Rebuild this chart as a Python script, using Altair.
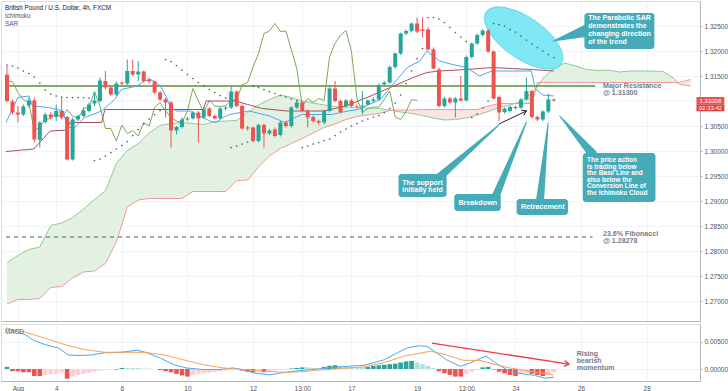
import altair as alt
import pandas as pd

# ---------------- values ----------------
opens = [1.3153,1.3099,1.3077,1.3073,1.3091,1.3101,1.3022,1.3058,1.3073,1.3068,
         1.3080,1.3068,1.2983,1.3063,1.3070,1.3080,1.3095,1.3100,1.3140,1.3127,
         1.3113,1.3137,1.3135,1.3160,1.3153,1.3159,1.3143,1.3139,1.3117,1.3103,
         1.3097,1.3041,1.3048,1.3063,1.3065,1.3077,1.3067,1.3085,1.3070,1.3065,
         1.3085,1.3087,1.3119,1.3090,1.3047,1.3047,1.3020,1.3052,1.3035,1.3043,
         1.3032,1.3057,1.3050,1.3087,1.3097,1.3080,1.3068,1.3060,1.3057,1.3080,
         1.3125,1.3100,1.3090,1.3101,1.3090,1.3089,1.3093,1.3100,1.3103,1.3133,
         1.3137,1.3168,1.3195,1.3235,1.3240,1.3255,1.3243,1.3243,1.3203,1.3163,
         1.3090,1.3105,1.3097,1.3105,1.3101,1.3188,1.3215,1.3232,1.3241,1.3199,
         1.3108,1.3078,1.3080,1.3086,1.3087,1.3103,1.3120,1.3068,1.3063,1.3079,
         1.3103]
highs = [1.3170,1.3103,1.3090,1.3093,1.3107,1.3107,1.3060,1.3077,1.3077,1.3093,
         1.3107,1.3070,1.3067,1.3073,1.3087,1.3097,1.3117,1.3147,1.3160,1.3130,
         1.3139,1.3139,1.3183,1.3183,1.3180,1.3161,1.3147,1.3141,1.3120,1.3107,
         1.3100,1.3050,1.3067,1.3068,1.3080,1.3080,1.3088,1.3088,1.3073,1.3088,
         1.3090,1.3130,1.3121,1.3093,1.3050,1.3049,1.3055,1.3055,1.3044,1.3047,
         1.3060,1.3060,1.3090,1.3100,1.3100,1.3083,1.3071,1.3063,1.3083,1.3128,
         1.3140,1.3103,1.3104,1.3104,1.3093,1.3120,1.3104,1.3107,1.3135,1.3140,
         1.3171,1.3197,1.3237,1.3243,1.3257,1.3267,1.3267,1.3247,1.3207,1.3167,
         1.3108,1.3108,1.3108,1.3150,1.3191,1.3217,1.3235,1.3244,1.3244,1.3201,
         1.3111,1.3087,1.3091,1.3091,1.3106,1.3147,1.3123,1.3071,1.3081,1.3115,
         1.3105]
lows = [1.3097,1.3073,1.3057,1.3070,1.3087,1.3017,1.3007,1.3055,1.3063,1.3060,
        1.3063,1.2981,1.2981,1.3060,1.3067,1.3077,1.3090,1.3097,1.3123,1.3110,
        1.3110,1.3132,1.3132,1.3150,1.3140,1.3137,1.3135,1.3113,1.3100,1.3067,
        1.3007,1.3033,1.3045,1.3060,1.3063,1.3017,1.3064,1.3067,1.3063,1.3063,
        1.3081,1.3084,1.3087,1.3043,1.3041,1.3017,1.3017,1.3007,1.3032,1.3027,
        1.3029,1.3047,1.3047,1.3084,1.3077,1.3047,1.3057,1.3053,1.3053,1.3077,
        1.3097,1.3075,1.3087,1.3087,1.3085,1.3073,1.3091,1.3097,1.3101,1.3131,
        1.3135,1.3165,1.3192,1.3232,1.3237,1.3236,1.3227,1.3201,1.3163,1.3087,
        1.3087,1.3093,1.3067,1.3099,1.3099,1.3185,1.3212,1.3229,1.3196,1.3103,
        1.3060,1.3075,1.3077,1.3083,1.3084,1.3101,1.3065,1.3060,1.3060,1.3076,
        1.3099]
closes = [1.3100,1.3077,1.3073,1.3089,1.3101,1.3023,1.3057,1.3073,1.3067,1.3080,
          1.3068,1.2983,1.3063,1.3070,1.3081,1.3093,1.3101,1.3141,1.3127,1.3113,
          1.3135,1.3135,1.3160,1.3153,1.3159,1.3140,1.3139,1.3117,1.3103,1.3097,
          1.3041,1.3048,1.3063,1.3065,1.3077,1.3065,1.3083,1.3070,1.3065,1.3085,
          1.3087,1.3119,1.3090,1.3045,1.3045,1.3020,1.3052,1.3035,1.3041,1.3030,
          1.3057,1.3050,1.3087,1.3097,1.3080,1.3067,1.3060,1.3057,1.3080,1.3125,
          1.3100,1.3078,1.3101,1.3090,1.3089,1.3091,1.3101,1.3103,1.3132,1.3137,
          1.3168,1.3195,1.3235,1.3240,1.3255,1.3239,1.3240,1.3203,1.3165,1.3090,
          1.3105,1.3097,1.3105,1.3101,1.3188,1.3215,1.3232,1.3241,1.3199,1.3105,
          1.3077,1.3085,1.3088,1.3088,1.3103,1.3120,1.3068,1.3063,1.3079,1.3103,
          1.3101]
sar = [1.3172,1.3170,1.3166,1.3160,1.3155,1.3148,1.3136,1.3122,1.3114,1.3110,
       1.3108,1.3107,1.3107,1.3107,1.3107,1.3106,1.2981,1.2984,1.2990,1.2997,
       1.3004,1.3011,1.3019,1.3031,1.3043,1.3054,1.3064,1.3073,1.3081,1.3183,
       1.3179,1.3171,1.3162,1.3153,1.3145,1.3137,1.3130,1.3123,1.3117,1.3111,
       1.3106,1.3007,1.3010,1.3014,1.3018,1.3130,1.3127,1.3123,1.3119,1.3115,
       1.3111,1.3108,1.3104,1.3101,1.3007,1.3010,1.3014,1.3017,1.3021,1.3024,
       1.3031,1.3038,1.3044,1.3050,1.3055,1.3060,1.3064,1.3068,1.3071,1.3077,
       1.3085,1.3096,1.3112,1.3135,1.3160,1.3185,1.3205,1.3267,1.3267,1.3264,
       1.3257,1.3247,1.3237,1.3228,1.3219,1.3067,1.3074,1.3086,1.3100,1.3255,
       1.3253,1.3250,1.3243,1.3238,1.3230,1.3222,1.3214,1.3207,1.3200,1.3193,
       1.3187]
hist = [0.0004,-0.0004,-0.0004,-0.0006,-0.0006,-0.0013,-0.0013,-0.0011,-0.0010,-0.0009,
        -0.0007,-0.0018,-0.0014,-0.0011,-0.0009,-0.0007,-0.0005,-0.0003,-0.0002,-0.0001,
        -0.0001,0.0002,0.0002,0.0002,0.0002,0.0001,0.0001,0.0000,-0.0002,-0.0004,
        -0.0006,-0.0009,-0.0012,-0.0014,-0.0011,-0.0009,-0.0008,-0.0007,-0.0006,-0.0004,
        -0.0003,-0.0002,-0.0001,-0.0003,-0.0005,-0.0006,-0.0003,-0.0006,-0.0004,-0.0003,
        -0.0002,-0.0001,0.0001,0.0002,0.0003,0.0003,0.0002,0.0001,0.0004,0.0006,
        0.0007,0.0006,0.0005,0.0004,0.0003,0.0003,0.0004,0.0006,0.0007,0.0008,
        0.0009,0.0010,0.0012,0.0014,0.0015,0.0012,0.0009,0.0006,0.0002,-0.0004,
        -0.0008,-0.0011,-0.0014,-0.0014,-0.0009,-0.0005,-0.0002,0.0003,0.0004,-0.0001,
        -0.0005,-0.0008,-0.0011,-0.0013,-0.0010,-0.0007,-0.0009,-0.0011,-0.0013,-0.0010,
        -0.0006]

tenkan_bar = [0.82,3.0,5.0,5.7,8.6,11.3,12.0,13.4,15.2,18.3,20.7,21.9,24.8,26.1,27.3,29.1,
              30.2,30.9,32.0,34.5,35.6,38.1,39.2,40.5,41.7,45.3,49.0,51.8,54.9,60.3,63.4,
              65.2,69.3,71.1,74.2,76.5,77.8,80.1,82.5,85.0,87.4,89.7,96.9,97.6,99.0,101.0]
tenkan_val = [1.3057,1.3107,1.3110,1.3090,1.3087,1.3080,1.3047,1.3047,1.3067,1.3080,1.3103,
              1.3123,1.3130,1.3140,1.3143,1.3130,1.3107,1.3087,1.3080,1.3080,1.3073,1.3060,
              1.3057,1.3067,1.3073,1.3080,1.3070,1.3057,1.3073,1.3073,1.3080,1.3083,1.3103,
              1.3127,1.3167,1.3180,1.3200,1.3180,1.3173,1.3167,1.3150,1.3160,1.3160,1.3125,
              1.3112,1.3110]
kijun_bar = [0.82,5.9,8.9,12.0,12.5,18.3,18.9,36.9,37.4,42.8,45.0,47.7,52.2,59.0,63.0,
             67.5,71.1,75.3,77.8,80.1,85.0,89.7,96.9,101.0]
kijun_val = [1.2999,1.3004,1.3040,1.3042,1.3057,1.3057,1.3083,1.3083,1.3100,1.3100,1.3093,
             1.3085,1.3080,1.3080,1.3090,1.3110,1.3127,1.3147,1.3157,1.3160,1.3163,1.3167,
             1.3163,1.3160]
cloud_bar = [1,3,5,7,9,11,13,15,17,19,21,23,25,27,29,31,33,35,37,39,41,43,45,47,49,51,53,
             55,57,59,61,63,65,67,69,71,73,75,77,79,81,83,85,87,89,91,93,95,97,98,99,101,
             103,105,107,109,111,113,115,117,119,121,123,124,126]
span_a = [1.2777,1.2791,1.2803,1.2808,1.2851,1.2856,1.2867,1.2884,1.2903,1.2920,1.2975,
          1.3001,1.3015,1.3036,1.3051,1.3055,1.3057,1.3055,1.3053,1.3059,1.3060,1.3061,
          1.3077,1.3092,1.3103,1.3112,1.3107,1.3100,1.3096,1.3092,1.3089,1.3088,1.3087,
          1.3086,1.3085,1.3082,1.3078,1.3075,1.3071,1.3066,1.3062,1.3063,1.3066,1.3072,
          1.3079,1.3087,1.3092,1.3099,1.3117,1.3128,1.3145,1.3165,1.3176,1.3170,1.3163,
          1.3161,1.3162,1.3158,1.3160,1.3160,1.3160,1.3159,1.3145,1.3133,1.3130]
span_b = [1.2694,1.2703,1.2703,1.2705,1.2727,1.2729,1.2746,1.2758,1.2760,1.2775,1.2818,
          1.2888,1.2902,1.2905,1.2905,1.2905,1.2905,1.2919,1.2919,1.2919,1.2919,1.2941,
          1.2942,1.2968,1.2990,1.3005,1.3015,1.3025,1.3036,1.3047,1.3054,1.3063,1.3069,
          1.3072,1.3075,1.3081,1.3082,1.3082,1.3083,1.3083,1.3083,1.3083,1.3083,1.3083,
          1.3090,1.3095,1.3095,1.3095,1.3095,1.3137,1.3137,1.3137,1.3137,1.3137,1.3137,
          1.3137,1.3137,1.3137,1.3137,1.3137,1.3137,1.3137,1.3137,1.3137,1.3143]
macd_bar = [0.82,2.6,4.4,5.7,8.0,10.4,12.2,14.0,16.5,18.8,21.9,24.8,26.6,29.1,31.5,33.8,
            36.9,39.9,42.3,44.1,45.9,49.0,51.3,53.6,56.7,59.8,63.4,66.3,70.0,72.4,74.2,
            76.4,77.8,79.1,81.4,83.9,85.7,88.6,90.4,92.9,95.3,97.6,99.4,101.0]
macd_val = [0.0076,0.0070,0.0063,0.0054,0.0045,0.0039,0.0026,0.0025,0.0026,0.0030,0.0031,
            0.0035,0.0030,0.0020,0.0008,0.0002,-0.0001,-0.0001,0.0002,-0.0001,-0.0007,
            -0.0011,-0.0007,-0.0004,-0.0001,0.0002,0.0005,0.0007,0.0017,0.0030,0.0039,
            0.0043,0.0042,0.0033,0.0017,0.0005,0.0011,0.0024,0.0011,-0.0004,-0.0009,
            -0.0012,-0.0017,-0.0015]
signal_bar = [0.82,4.4,8.0,11.6,15.2,18.8,22.5,26.1,29.7,33.3,36.9,40.5,44.1,47.7,51.8,
              54.9,58.5,62.1,66.3,70.0,73.7,78.5,81.4,84.5,87.5,90.4,92.9,96.5,101.0]
signal_val = [0.0075,0.0068,0.0057,0.0045,0.0036,0.0031,0.0031,0.0031,0.0026,0.0017,
              0.0008,0.0002,-0.0001,-0.0004,-0.0006,-0.0005,-0.0002,0.0001,0.0004,0.0012,
              0.0024,0.0033,0.0026,0.0016,0.0016,0.0008,0.0002,-0.0004,-0.0011]

tick_bars = [3, 10, 22, 34, 46, 55, 64, 76, 85, 94, 106, 118]
tick_labels = ["Aug", "4", "6", "10", "12", "13:00", "17", "19", "13:00", "24", "26", "28"]
price_ticks = [1.270, 1.275, 1.280, 1.285, 1.290, 1.295, 1.300, 1.305, 1.315, 1.320, 1.325]
hidden_grid = [1.310]
macd_ticks = [0.0, 0.005]
RESISTANCE = 1.31300
FIB = 1.28278
LAST_PRICE = 1.31008
LAST_TIME = "02:33:42"
LAG = 25

# ---------------- frames ----------------
bars = list(range(1, len(closes) + 1))
candles = pd.DataFrame({"bar": bars, "open": opens, "high": highs, "low": lows, "close": closes})
candles["dir"] = ["up" if c >= o else "down" for o, c in zip(opens, closes)]
sar_df = pd.DataFrame({"bar": bars, "v": sar})
chikou_df = pd.DataFrame({"bar": bars[:len(closes) - LAG], "v": closes[LAG:]})
tenkan_df = pd.DataFrame({"bar": tenkan_bar, "v": tenkan_val})
kijun_df = pd.DataFrame({"bar": kijun_bar, "v": kijun_val})
cloud_df = pd.DataFrame({"bar": cloud_bar, "a": span_a, "b": span_b})

hcol = []
for i, h in enumerate(hist):
    prev = hist[i - 1] if i > 0 else 0.0
    if h >= 0:
        hcol.append("#26a69a" if h > prev else "#b2dfdb")
    else:
        hcol.append("#ffcdd2" if h > prev else "#ef5350")
hist_df = pd.DataFrame({"bar": bars, "h": hist, "c": hcol})
macd_df = pd.DataFrame({"bar": macd_bar, "v": macd_val})
signal_df = pd.DataFrame({"bar": signal_bar, "v": signal_val})

TEAL = "#45abb8"
FONT = "Liberation Sans"

xs = alt.Scale(domain=[0.82, 126.83], nice=False, zero=False)
ys = alt.Scale(domain=[1.2660, 1.3300], nice=False, zero=False)
ms = alt.Scale(domain=[-0.00222, 0.00833], nice=False, zero=False)

x_axis_p = alt.Axis(values=tick_bars, labels=False, ticks=False, domain=True,
                    domainColor="#b2b5be", grid=True, gridColor="#f0f3fa", title=None)
y_axis_p = alt.Axis(orient="right", values=price_ticks, format=".5f", labelFontSize=6.5,
                    labelColor="#50535e", labelFont=FONT, tickSize=2, tickColor="#b2b5be",
                    domainColor="#b2b5be", grid=True, gridColor="#f0f3fa", title=None,
                    labelPadding=2)
lbl_expr = "[" + ",".join("'%s'" % t for t in tick_labels) + "][indexof([" + \
    ",".join(str(b) for b in tick_bars) + "], datum.value)]"
x_axis_m = alt.Axis(values=tick_bars, labelExpr=lbl_expr, ticks=False, domain=True,
                    domainColor="#b2b5be", grid=True, gridColor="#f0f3fa", title=None,
                    labelFontSize=6.5, labelColor="#50535e", labelFont=FONT, labelPadding=4)
y_axis_m = alt.Axis(orient="right", values=macd_ticks, format=".5f", labelFontSize=6.5,
                    labelColor="#50535e", labelFont=FONT, tickSize=2, tickColor="#b2b5be",
                    domainColor="#b2b5be", grid=True, gridColor="#f0f3fa", title=None,
                    labelPadding=2)


def X(field="bar"):
    return alt.X(field + ":Q", scale=xs, axis=x_axis_p)


def Y(field):
    return alt.Y(field + ":Q", scale=ys, axis=y_axis_p)


# ---------------- price pane ----------------
grid_extra = alt.Chart(pd.DataFrame({"y": hidden_grid})).mark_rule(
    color="#f0f3fa", strokeWidth=1).encode(y=Y("y"))

cloud = alt.Chart(cloud_df).transform_calculate(lo="min(datum.a, datum.b)")
cloud_green = cloud.mark_area(color="#e3f1e3").encode(x=X(), y=Y("a"), y2="lo:Q")
cloud_red = cloud.mark_area(color="#fce4e3").encode(x=X(), y=Y("b"), y2="lo:Q")
line_a = cloud.mark_line(color="#8fcc92", strokeWidth=1).encode(x=X(), y=Y("a"))
line_b = cloud.mark_line(color="#ef9a9a", strokeWidth=1).encode(x=X(), y=Y("b"))

res_df = pd.DataFrame({"x0": [0.82], "x1": [108.6], "y": [RESISTANCE]})
fib_df = pd.DataFrame({"x0": [0.82], "x1": [108.1], "y": [FIB]})
res_line = alt.Chart(res_df).mark_rule(color="#5d8f2e", strokeWidth=1.5).encode(
    x=X("x0"), x2="x1:Q", y=Y("y"))
fib_line = alt.Chart(fib_df).mark_rule(
    color="#8a8d94", strokeWidth=1.5, strokeDash=[4, 4]).encode(x=X("x0"), x2="x1:Q", y=Y("y"))

level_txt = pd.DataFrame({
    "bar": [110.0, 110.0],
    "y": [1.31305, 1.28335],
    "t": ["Major Resistance\n@ " + format(RESISTANCE, ".5f"),
          "23.6% Fibonacci\n@ " + format(FIB, ".5f")],
})
level_text = alt.Chart(level_txt).mark_text(
    align="left", baseline="middle", lineBreak="\n", lineHeight=7.2, fontSize=7.1,
    fontWeight="bold", color="#787b86", font=FONT).encode(x=X(), y=Y("y"), text="t:N")

tenkan = alt.Chart(tenkan_df).mark_line(color="#4ea6ef", strokeWidth=1).encode(x=X(), y=Y("v"))
kijun = alt.Chart(kijun_df).mark_line(color="#a8505a", strokeWidth=1).encode(x=X(), y=Y("v"))
chikou = alt.Chart(chikou_df).mark_line(color="#7aa858", strokeWidth=1).encode(x=X(), y=Y("v"))

ellipse_df = pd.DataFrame({"bar": [95.5], "y": [1.3226]})
ellipse = alt.Chart(ellipse_df).mark_point(
    shape="M 1 0 C 1 0.2485 0.5523 0.45 0 0.45 C -0.5523 0.45 -1 0.2485 -1 0 "
          "C -1 -0.2485 -0.5523 -0.45 0 -0.45 C 0.5523 -0.45 1 -0.2485 1 0 Z",
    filled=True, fill="#80e8f4", stroke="#62d6e6", strokeWidth=1, opacity=1,
    size=8300, angle=35).encode(x=X(), y=Y("y"))

sar_pts = alt.Chart(sar_df).mark_circle(size=3, color="#505050", opacity=0.9).encode(
    x=X(), y=Y("v"))

cscale = alt.Scale(domain=["up", "down"], range=["#26a69a", "#ef5350"])
wicks = alt.Chart(candles).mark_rule(strokeWidth=1).encode(
    x=X(), y=Y("low"), y2="high:Q", color=alt.Color("dir:N", scale=cscale, legend=None))
bodies = alt.Chart(candles).mark_bar(size=4).encode(
    x=X(), y=Y("open"), y2="close:Q", color=alt.Color("dir:N", scale=cscale, legend=None))

# callouts
boxes = pd.DataFrame({
    "x0": [106.6, 72.6, 82.8, 94.2, 106.3],
    "x1": [119.4, 81.4, 91.3, 103.6, 119.6],
    "y0": [1.3276, 1.2954, 1.2914, 1.2904, 1.2996],
    "y1": [1.3204, 1.2908, 1.2880, 1.2872, 1.2898],
})
box_marks = alt.Chart(boxes).mark_rect(color=TEAL, cornerRadius=3).encode(
    x=X("x0"), x2="x1:Q", y=Y("y0"), y2="y1:Q")

pointers = pd.DataFrame({
    "id": ["p1", "p1", "p2", "p2", "p3", "p3", "p4", "p4", "p5", "p5"],
    "bar": [107.4, 100.9, 80.1, 90.96, 90.4, 96.0, 98.5, 99.97, 108.1, 102.1],
    "y": [1.3242, 1.3220, 1.2948, 1.3052, 1.2910, 1.3058, 1.2902, 1.3056, 1.2994, 1.3070],
    "w": [13, 1, 8, 1, 8, 1, 8, 1, 9, 1],
})
pointer_marks = alt.Chart(pointers).mark_trail(color=TEAL).encode(
    x=X(), y=Y("y"), size=alt.Size("w:Q", scale=None, legend=None), detail="id:N")

left_txt = pd.DataFrame({
    "bar": [107.3, 73.3, 107.1],
    "y": [1.32662, 1.29368, 1.29818],
    "lh": [7.9, 7.1, 6.6],
    "fs": [7.0, 7.0, 6.5],
    "t": ["The Parabolic SAR\ndemonstrates the\nchanging direction\nof the trend",
          "The support\ninitially held",
          "The price action\nis trading below\nthe Base Line and\nalso below the\n"
          "Conversion Line of\nthe Ichimoku Cloud"],
})


def callout_text(row):
    return alt.Chart(left_txt.iloc[[row]]).mark_text(
        align="left", baseline="middle", lineBreak="\n", lineHeight=float(left_txt.lh[row]),
        fontSize=float(left_txt.fs[row]), fontWeight="bold", color="white",
        font=FONT).encode(x=X(), y=Y("y"), text="t:N")


center_txt = pd.DataFrame({"bar": [87.1, 99.0], "y": [1.28966, 1.28880],
                           "t": ["Breakdown", "Retracement"]})
center_text = alt.Chart(center_txt).mark_text(
    align="center", baseline="middle", fontSize=7.2, fontWeight="bold", color="white",
    font=FONT).encode(x=X(), y=Y("y"), text="t:N")

arrow_df = pd.DataFrame({"bar": [90.96, 96.0], "y": [1.3054, 1.3080]})
arrow_line = alt.Chart(arrow_df).mark_line(color="#1e222d", strokeWidth=1).encode(
    x=X(), y=Y("y"))
arrow_head = alt.Chart(arrow_df.iloc[[1]]).mark_point(
    shape="M -1.6 -1 L 0 0 L -1.6 1", filled=False, stroke="#1e222d", strokeWidth=1,
    size=30, angle=335, opacity=1).encode(x=X(), y=Y("y"))

# last price tag on the axis
tag1 = pd.DataFrame({"x0": [127.1], "x1": [132.2], "y0": [1.3108], "y1": [1.30934],
                     "xm": [129.65], "ym": [1.31007], "t": [format(LAST_PRICE, ".5f")]})
tag2 = pd.DataFrame({"x0": [127.1], "x1": [132.2], "y0": [1.30934], "y1": [1.30794],
                     "xm": [129.65], "ym": [1.30864], "t": [LAST_TIME]})
tag_rect1 = alt.Chart(tag1).mark_rect(color="#ef5350").encode(
    x=X("x0"), x2="x1:Q", y=Y("y0"), y2="y1:Q")
tag_rect2 = alt.Chart(tag2).mark_rect(color="#d84340").encode(
    x=X("x0"), x2="x1:Q", y=Y("y0"), y2="y1:Q")
tag_text1 = alt.Chart(tag1).mark_text(fontSize=6, color="white", font=FONT).encode(
    x=X("xm"), y=Y("ym"), text="t:N")
tag_text2 = alt.Chart(tag2).mark_text(fontSize=6, color="white", font=FONT).encode(
    x=X("xm"), y=Y("ym"), text="t:N")


def label(txt, py, color):
    return alt.Chart(pd.DataFrame({"t": [txt]})).mark_text(
        align="left", baseline="middle", fontSize=6.4, font=FONT, color=color,
        x=4, y=py).encode(text="t:N")


title1 = label("British Pound / U.S. Dollar, 4h, FXCM", 6.5, "#131722")
title2 = label("Ichimoku", 15, "#50535e")
title3 = label("SAR", 22.5, "#50535e")

price = alt.layer(
    grid_extra, cloud_green, cloud_red, line_a, line_b, res_line, fib_line, chikou, kijun,
    tenkan, ellipse, sar_pts, wicks, bodies, pointer_marks, box_marks,
    callout_text(0), callout_text(1), callout_text(2), center_text,
    level_text, arrow_line, arrow_head, tag_rect1, tag_rect2, tag_text1, tag_text2,
    title1, title2, title3
).properties(width=699, height=320)

# ---------------- MACD pane ----------------
def XM(field="bar"):
    return alt.X(field + ":Q", scale=xs, axis=x_axis_m)


def YM(field):
    return alt.Y(field + ":Q", scale=ms, axis=y_axis_m)


hist_bars = alt.Chart(hist_df).mark_bar(size=4.6).encode(
    x=XM(), y=YM("h"), y2=alt.datum(0), color=alt.Color("c:N", scale=None))
macd_line = alt.Chart(macd_df).mark_line(color="#4ea6ef", strokeWidth=1).encode(
    x=XM(), y=YM("v"))
signal_line = alt.Chart(signal_df).mark_line(color="#f4a35a", strokeWidth=1).encode(
    x=XM(), y=YM("v"))
red_arrow_df = pd.DataFrame({"bar": [78.7, 103.8], "v": [0.0048, 0.0009]})
red_arrow = alt.Chart(red_arrow_df).mark_line(color="#f23645", strokeWidth=1.3).encode(
    x=XM(), y=YM("v"))
red_head = alt.Chart(red_arrow_df.iloc[[1]]).mark_point(
    shape="M -1.6 -1 L 0 0 L -1.6 1", filled=False, stroke="#f23645", strokeWidth=1.3,
    size=36, angle=9, opacity=1).encode(x=XM(), y=YM("v"))
mom_df = pd.DataFrame({"bar": [105.2], "v": [0.00278], "t": ["Rising\nbearish\nmomentum"]})
mom_text = alt.Chart(mom_df).mark_text(
    align="left", baseline="middle", lineBreak="\n", lineHeight=7.1, fontSize=7.0,
    fontWeight="bold", color="#787b86", font=FONT).encode(x=XM(), y=YM("v"), text="t:N")
macd_lbl = alt.Chart(pd.DataFrame({"t": ["MACD"]})).mark_text(
    align="left", baseline="middle", fontSize=6.4, color="#50535e", font=FONT,
    x=4, y=8).encode(text="t:N")

macd = alt.layer(hist_bars, macd_line, signal_line, red_arrow, red_head, mom_text,
                 macd_lbl).properties(width=699, height=57)

chart = alt.vconcat(price, macd, spacing=1).properties(
    padding={"left": 0, "top": 0, "right": 0, "bottom": 0}
).configure_view(stroke=None).configure(background="white")

chart.save("out.html", embed_options={"renderer": "svg", "actions": False})
